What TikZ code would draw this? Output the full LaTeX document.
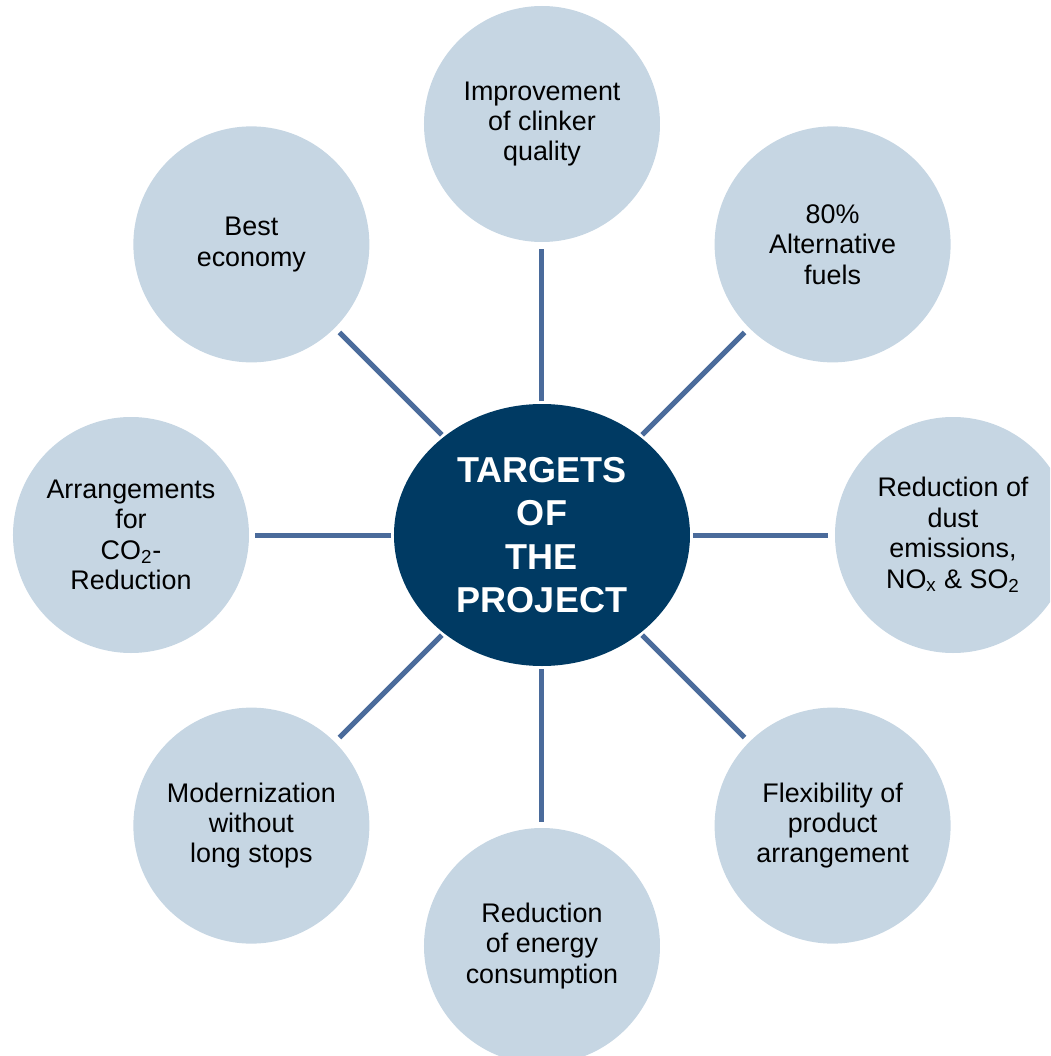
\documentclass[tikz,border=0pt]{standalone}
\usepackage{fontspec}
\setmainfont{Liberation Sans}
\usetikzlibrary{shapes.geometric}
\definecolor{goalfill}{RGB}{198,214,227}
\definecolor{hubfill}{RGB}{0,58,99}
\definecolor{spokeblue}{RGB}{74,107,155}

\begin{document}
\begin{tikzpicture}[
  goalcircle/.style={shape=circle,fill=goalfill,minimum size=4.72cm,inner sep=0pt,outer sep=0.13cm,align=center,font=\fontsize{15.3}{17.3}\selectfont},
  hubellipse/.style={shape=ellipse,fill=hubfill,text=white,minimum width=5.92cm,minimum height=5.24cm,inner sep=0pt,outer sep=0.06cm,align=center,font=\fontsize{20.5}{24.6}\selectfont\bfseries},
  spoke/.style={spokeblue,line width=0.1cm}]
\clip (-10.84,-10.42) rectangle (10.16,10.70);
\node[hubellipse] (hub) at (0,0) {TARGETS\\OF\\THE\\PROJECT};
\node[goalcircle] (quality) at (90:8.22) {Improvement\\of clinker\\quality};
\node[goalcircle] (fuels) at (45:8.22) {80\%\\Alternative\\fuels};
\node[goalcircle] (emissions) at (0:8.22) {Reduction of\\dust\\emissions,\\NO\textsubscript{x} \& SO\textsubscript{2}};
\node[goalcircle] (flexibility) at (-45:8.22) {Flexibility of\\product\\arrangement};
\node[goalcircle] (energy) at (-90:8.22) {Reduction\\of energy\\consumption};
\node[goalcircle] (modernization) at (-135:8.22) {Modernization\\without\\long stops};
\node[goalcircle] (co2) at (180:8.22) {Arrangements\\for\\CO\textsubscript{2}-\\Reduction};
\node[goalcircle] (economy) at (135:8.22) {Best\\economy};
\draw[spoke] (hub) -- (quality);
\draw[spoke] (hub) -- (fuels);
\draw[spoke] (hub) -- (emissions);
\draw[spoke] (hub) -- (flexibility);
\draw[spoke] (hub) -- (energy);
\draw[spoke] (hub) -- (modernization);
\draw[spoke] (hub) -- (co2);
\draw[spoke] (hub) -- (economy);
\end{tikzpicture}
\end{document}
